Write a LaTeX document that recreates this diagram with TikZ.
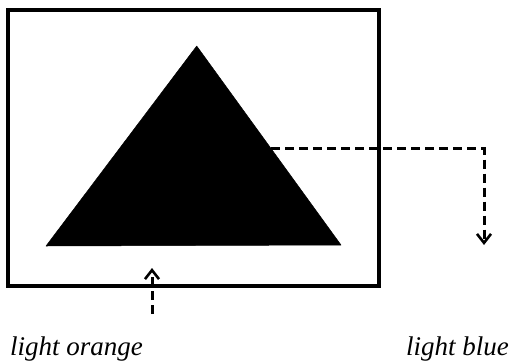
\documentclass[tikz,border=0pt]{standalone}
\usepackage{fontspec}
\setmainfont{Liberation Serif}
\usetikzlibrary{arrows.meta}
\tikzset{
  frame/.style={draw=black, line width=3.4pt},
  solid tri/.style={fill=black, draw=black, line width=0.5pt, line join=round},
  dashconn/.style={draw=black, line width=3pt, dash pattern=on 9pt off 5pt, -{Straight Barb[length=9pt,width=14pt,line width=2.6pt]}},
  label/.style={font=\fontsize{27}{30}\selectfont\itshape, inner sep=0pt, anchor=base west}
}
\begin{document}
\begin{tikzpicture}[x=1pt,y=-1pt]
\useasboundingbox (0,0) rectangle (511,362);
\draw[frame] (8,10) rectangle (379,286);
\coordinate (apex) at (196.7,46);
\coordinate (bl) at (46,246);
\coordinate (br) at (341,245);
\fill[solid tri] (apex) -- (bl) -- (br) -- cycle;
\coordinate (edge) at (271,148.7);
\coordinate (corner) at (484,148.7);
\coordinate (downend) at (484,245);
\draw[dashconn] (edge) -- (corner) -- (downend);
\coordinate (upstart) at (152,314);
\coordinate (upend) at (152,268);
\draw[dashconn] (upstart) -- (upend);
\node[label] (orange) at (10,355) {light orange};
\node[label] (blue) at (406,355) {light blue};
\end{tikzpicture}
\end{document}
